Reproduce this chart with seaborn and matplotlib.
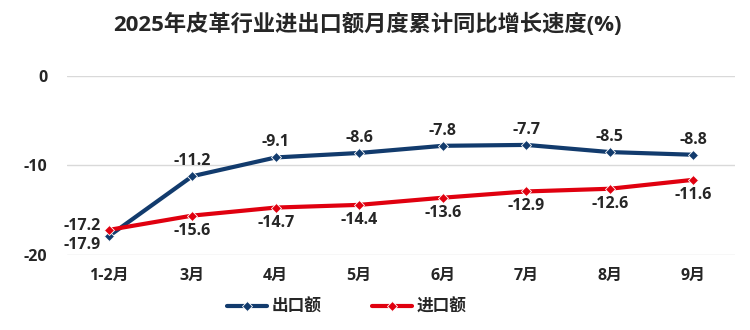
import matplotlib
matplotlib.use("Agg")
import matplotlib.pyplot as plt
import seaborn as sns
import pandas as pd

months = ["1-2月", "3月", "4月", "5月", "6月", "7月", "8月", "9月"]
export_vals = [-17.9, -11.2, -9.1, -8.6, -7.8, -7.7, -8.5, -8.8]
import_vals = [-17.2, -15.6, -14.7, -14.4, -13.6, -12.9, -12.6, -11.6]
series_names = ["出口额", "进口额"]
colors = ["#123B6D", "#E0000F"]
yticks = [0, -10, -20]

sns.set_theme(style="white")
plt.rcParams["font.family"] = ["Open Sans", "Noto Sans CJK SC", "DejaVu Sans"]

df = pd.DataFrame({
    "month": months * 2,
    "value": export_vals + import_vals,
    "series": [series_names[0]] * len(months) + [series_names[1]] * len(months),
})

fig = plt.figure(figsize=(7.5, 3.3), dpi=100)
ax = fig.add_axes([0.0893, 0.2273, 0.8907, 0.5424])

sns.lineplot(data=df, x="month", y="value", hue="series", hue_order=series_names,
             palette=colors, marker="D", markersize=5, markeredgecolor="white",
             markeredgewidth=0.6, linewidth=3, sort=False, ax=ax, legend=True)

fs = 11.5
ax.set_xlim(-0.5, len(months) - 0.5)
ax.set_ylim(-20, 0)
ax.set_yticks(yticks)
ax.set_yticklabels([str(t) for t in yticks], fontsize=fs, fontweight="bold")
ax.set_xticks(range(len(months)))
ax.set_xticklabels(months, fontsize=fs, fontweight="bold")
ax.grid(axis="y", color="#D9D9D9", linewidth=1)
ax.set_axisbelow(True)
for s in ax.spines.values():
    s.set_visible(False)
ax.tick_params(axis="x", length=0, pad=9)
ax.tick_params(axis="y", length=0, pad=14)
ax.set_xlabel("")
ax.set_ylabel("")

# labels
for i, v in enumerate(export_vals):
    if i == 0:
        ax.annotate(f"{v}", (i, v), xytext=(-6, -6), textcoords="offset points",
                    ha="right", va="center", fontsize=fs, fontweight="bold")
    else:
        ax.annotate(f"{v}", (i, v), xytext=(0, 5), textcoords="offset points",
                    ha="center", va="bottom", fontsize=fs, fontweight="bold")
for i, v in enumerate(import_vals):
    if i == 0:
        ax.annotate(f"{v}", (i, v), xytext=(-6, 3), textcoords="offset points",
                    ha="right", va="center", fontsize=fs, fontweight="bold")
    else:
        ax.annotate(f"{v}", (i, v), xytext=(0, -5), textcoords="offset points",
                    ha="center", va="top", fontsize=fs, fontweight="bold")

handles, labels = ax.get_legend_handles_labels()
ax.legend(handles, labels, loc="center", bbox_to_anchor=(0.462, 0.07),
          bbox_transform=fig.transFigure, ncol=2, frameon=False,
          prop={"size": 12, "weight": "bold"}, handlelength=2.4, handletextpad=0.3,
          columnspacing=3.0)

fig.text(0.49, 0.925, "2025年皮革行业进出口额月度累计同比增长速度(%)", ha="center", va="center",
         fontsize=16, fontweight="bold")

fig.savefig("out.png", dpi=100, facecolor="white")
